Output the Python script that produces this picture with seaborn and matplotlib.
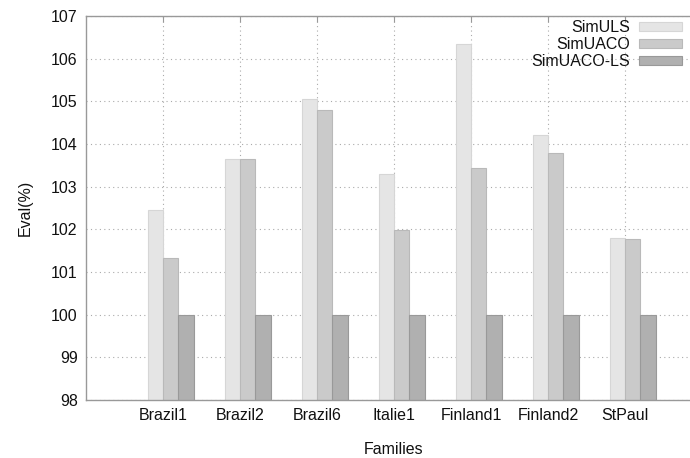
import numpy as np
import pandas as pd
import matplotlib
matplotlib.use("Agg")
import matplotlib.pyplot as plt
from matplotlib.patches import Patch
import seaborn as sns

# data
families = ["Brazil1", "Brazil2", "Brazil6", "Italie1", "Finland1", "Finland2", "StPaul"]
methods = ["SimULS", "SimUACO", "SimUACO-LS"]
sim_uls = [102.45, 103.66, 105.05, 103.30, 106.34, 104.22, 101.79]
sim_uaco = [101.32, 103.64, 104.80, 101.99, 103.44, 103.79, 101.78]
sim_uaco_ls = [100.0, 100.0, 100.0, 100.0, 100.0, 100.0, 100.0]

fills = ["#e5e5e5", "#cacaca", "#b0b0b0"]
edges = ["#d6d6d6", "#b9b9b9", "#999999"]

df = pd.DataFrame({
    "Families": families * 3,
    "Eval": sim_uls + sim_uaco + sim_uaco_ls,
    "Method": [m for m in methods for _ in families],
})

sns.set_style("white")
plt.rcParams["font.family"] = ["Liberation Sans", "DejaVu Sans"]
plt.rcParams["text.color"] = "#111111"
plt.rcParams["axes.labelcolor"] = "#111111"
plt.rcParams["xtick.labelcolor"] = "#111111"
plt.rcParams["ytick.labelcolor"] = "#111111"

fs = 11.5

fig = plt.figure(figsize=(6.9, 4.58), dpi=100)
# plot area runs past the right edge of the figure, as in the original
ax = fig.add_axes([86 / 690, 58 / 458, 640 / 690, 384 / 458])

sns.barplot(data=df, x="Families", y="Eval", hue="Method", hue_order=methods,
            palette=fills, width=0.6, saturation=1, ax=ax, legend=False)
for cont, ec in zip(ax.containers, edges):
    for bar in cont:
        bar.set_edgecolor(ec)
        bar.set_linewidth(0.8)

ax.set_ylim(98, 107)
ax.set_yticks(np.arange(98, 108, 1))
ax.set_xticks(np.arange(len(families)) - 0.1)
ax.set_xticklabels(families)
ax.set_xlim(-1.1, -1.1 + 640 / 77)

ax.set_axisbelow(True)
ax.grid(True, color="#aaaaaa", linestyle=(0, (1, 3)), linewidth=0.8)
for side in ["left", "top", "bottom"]:
    ax.spines[side].set_color("#999999")
    ax.spines[side].set_linewidth(1.0)
ax.spines["right"].set_visible(False)
ax.tick_params(direction="in", length=4, color="#999999", top=True, right=False,
               labelsize=fs, pad=6)

ax.set_xlabel("Families", fontsize=fs)
ax.xaxis.set_label_coords((394 - 86) / 640, -0.11)
ax.set_ylabel("Eval(%)", fontsize=fs, labelpad=13)

handles = [Patch(facecolor=f, edgecolor=e, linewidth=0.8) for f, e in zip(fills, edges)]
ax.legend(handles, methods, loc="upper right", bbox_to_anchor=(682 / 690, 1 - 20 / 458),
          bbox_transform=fig.transFigure, frameon=False, markerfirst=False,
          fontsize=fs, handlelength=2.7, handleheight=0.5, labelspacing=0.12,
          handletextpad=0.55, borderpad=0, borderaxespad=0)

fig.savefig("out.png", dpi=100)
